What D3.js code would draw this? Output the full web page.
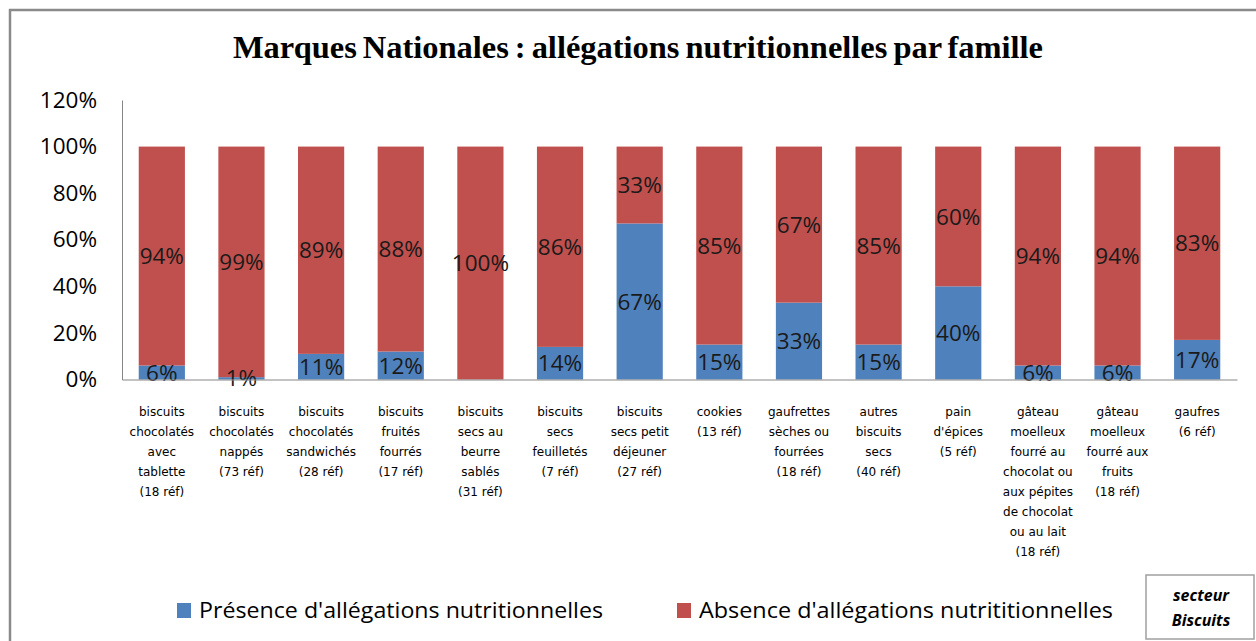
<!DOCTYPE html>
<html><head><meta charset="utf-8">
<script src="https://cdn.jsdelivr.net/npm/d3@7"></script>
<style>body{margin:0;background:#fff;} svg{display:block;}</style>
</head><body>
<svg id="c" width="1256" height="641"></svg>
<script>
const categories = [
  "biscuits|chocolatés|avec|tablette|(18 réf)",
  "biscuits|chocolatés|nappés|(73 réf)",
  "biscuits|chocolatés|sandwichés|(28 réf)",
  "biscuits|fruités|fourrés|(17 réf)",
  "biscuits|secs au|beurre|sablés|(31 réf)",
  "biscuits|secs|feuilletés|(7 réf)",
  "biscuits|secs petit|déjeuner|(27 réf)",
  "cookies|(13 réf)",
  "gaufrettes|sèches ou|fourrées|(18 réf)",
  "autres|biscuits|secs|(40 réf)",
  "pain|d'épices|(5 réf)",
  "gâteau|moelleux|fourré au|chocolat ou|aux pépites|de chocolat|ou au lait|(18 réf)",
  "gâteau|moelleux|fourré aux|fruits|(18 réf)",
  "gaufres|(6 réf)"
];
const presence = [6, 1, 11, 12, 0, 14, 67, 15, 33, 15, 40, 6, 6, 17];
const absence  = [94, 99, 89, 88, 100, 86, 33, 85, 67, 85, 60, 94, 94, 83];
const yTicks = [0, 20, 40, 60, 80, 100, 120];
const seriesNames = ["Présence d'allégations nutritionnelles", "Absence d'allégations nutrititionnelles"];
const seriesColors = ["#4F81BD", "#C0504D"];
const title = "Marques Nationales :  allégations nutritionnelles par famille";

const svg = d3.select("#c");
const L = 122, R = 1237, T = 100, B = 379.5;

// outer frame
svg.append("line").attr("x1", 10).attr("x2", 10).attr("y1", 9).attr("y2", 641).attr("stroke", "#8a8a8a").attr("stroke-width", 2.5);
svg.append("line").attr("x1", 9).attr("x2", 1256).attr("y1", 10).attr("y2", 10).attr("stroke", "#8a8a8a").attr("stroke-width", 2.5);

// title
svg.append("text").attr("x", 638).attr("y", 58).attr("text-anchor", "middle")
  .attr("font-family", "Liberation Serif").attr("font-weight", "bold").attr("font-size", 31)
  .attr("textLength", 810).attr("lengthAdjust", "spacingAndGlyphs").attr("fill", "#000")
  .attr("word-spacing", -2)
  .text(title);

const x = d3.scaleBand().domain(d3.range(categories.length)).range([L, R]).paddingInner(0.42).paddingOuter(0.21);
const y = d3.scaleLinear().domain([0, 120]).range([B, T]);

// y axis
const yAxis = d3.axisLeft(y).tickValues(yTicks).tickFormat(d => d + "%").tickSize(0).tickPadding(25);
const gy = svg.append("g").attr("transform", `translate(${L},0)`).call(yAxis);
gy.select(".domain").attr("stroke", "#868686").attr("stroke-width", 1);
gy.selectAll("text").attr("font-family", "Open Sans").attr("font-size", 22.5).attr("fill", "#000");

// stacked data
const stackData = categories.map((c, i) => ({i, p: presence[i], a: absence[i]}));
const stack = d3.stack().keys(["p", "a"])(stackData);

const groups = svg.append("g").selectAll("g").data(stack).join("g").attr("fill", (d, k) => seriesColors[k]);
groups.selectAll("rect").data(d => d).join("rect")
  .attr("x", d => x(d.data.i)).attr("width", x.bandwidth())
  .attr("y", d => y(d[1])).attr("height", d => y(d[0]) - y(d[1]));

// labels
stack.forEach((s, k) => {
  svg.append("g").selectAll("text").data(s.filter(d => d[1] - d[0] > 0)).join("text")
    .attr("x", d => x(d.data.i) + x.bandwidth() / 2)
    .attr("y", d => y((d[0] + d[1]) / 2))
    .attr("dy", "0.36em").attr("text-anchor", "middle")
    .attr("font-family", "Open Sans").attr("font-size", 22.5).attr("fill", "#1a1a1a")
    .text(d => (d[1] - d[0]) + "%");
});

// x axis
const xAxis = d3.axisBottom(x).tickSize(0).tickFormat("");
const gx = svg.append("g").attr("transform", `translate(0,${B})`).call(xAxis);
gx.select(".domain").attr("stroke", "#868686").attr("stroke-width", 1);

// category labels
const cl = svg.append("g");
categories.forEach((c, i) => {
  const t = cl.append("text").attr("x", x(i) + x.bandwidth() / 2).attr("y", 416)
    .attr("text-anchor", "middle").attr("font-family", "DejaVu Sans").attr("font-size", 12).attr("fill", "#000");
  c.split("|").forEach((ln, j) => {
    t.append("tspan").attr("x", x(i) + x.bandwidth() / 2).attr("y", 416 + j * 20).text(ln);
  });
});

// legend
const legX = [177, 677];
const legW = [404, 414];
seriesNames.forEach((n, k) => {
  svg.append("rect").attr("x", legX[k]).attr("y", 603).attr("width", 14).attr("height", 15).attr("fill", seriesColors[k]);
  svg.append("text").attr("x", legX[k] + 22).attr("y", 618).attr("font-family", "Open Sans").attr("font-size", 22)
    .attr("textLength", legW[k]).attr("lengthAdjust", "spacingAndGlyphs").attr("fill", "#000").text(n);
});

// secteur box
svg.append("rect").attr("x", 1146).attr("y", 575).attr("width", 108).attr("height", 64)
  .attr("fill", "#fff").attr("stroke", "#a0a0a0").attr("stroke-width", 1.5);
svg.append("text").attr("x", 1201).attr("y", 601).attr("text-anchor", "middle").attr("font-family", "Open Sans")
  .attr("font-weight", "bold").attr("font-style", "italic").attr("font-size", 16).attr("fill", "#000").text("secteur");
svg.append("text").attr("x", 1201).attr("y", 626).attr("text-anchor", "middle").attr("font-family", "Open Sans")
  .attr("font-weight", "bold").attr("font-style", "italic").attr("font-size", 16).attr("fill", "#000").text("Biscuits");
</script>
</body></html>
